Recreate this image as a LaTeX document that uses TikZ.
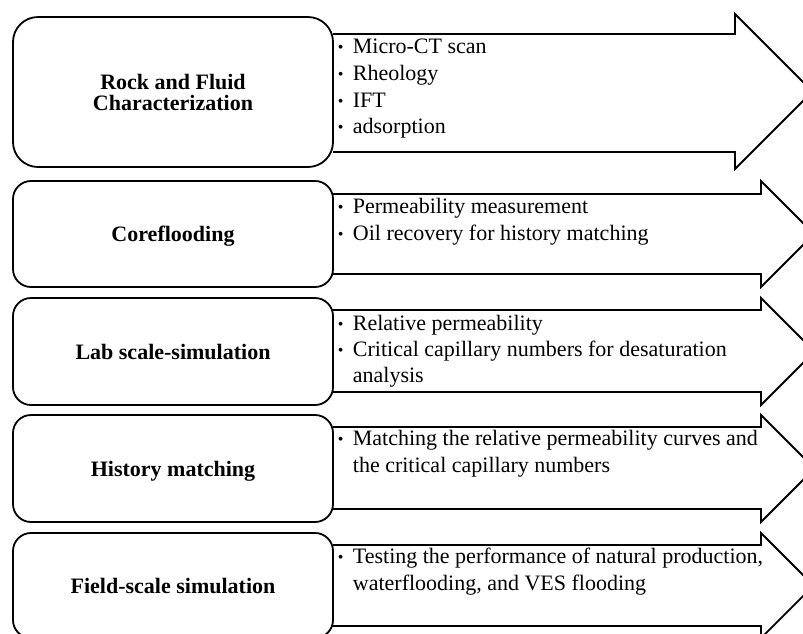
\documentclass[tikz,border=0pt]{standalone}
\usepackage{fontspec}
\setmainfont{Liberation Serif}
\newcommand{\bulletline}[4]{% name, y, text
  \node[bul] (#1b) at (337,#2) {\fontsize{16pt}{16pt}\selectfont\raisebox{1pt}{\textbullet}};
  \node[bul] (#1t) at (352,#2) {#3};}
\newcommand{\contline}[3]{%
  \node[bul] (#1t) at (352,#2) {#3};}
\begin{document}
\begin{tikzpicture}[x=1pt,y=-1pt, line width=1.8pt, line join=miter,
  stagebox/.style={draw, minimum width=320pt, inner sep=0pt},
  stagelabel/.style={font=\bfseries\fontsize{22pt}{21pt}\selectfont, align=center, inner sep=0pt},
  single/.style={text height=15pt, text depth=0pt},
  bul/.style={font=\fontsize{22pt}{26pt}\selectfont, anchor=base west, inner sep=0pt},
  arrowline/.style={draw}]
\clip (0,0) rectangle (803,633);

% stage boxes
\node[stagebox, minimum height=150pt, rounded corners=25pt] (b1) at (173,92) {};
\node[stagebox, minimum height=106pt, rounded corners=18pt] (b2) at (173,234) {};
\node[stagebox, minimum height=107pt, rounded corners=18pt] (b3) at (173,351.5) {};
\node[stagebox, minimum height=107pt, rounded corners=18pt] (b4) at (173,468.5) {};
\node[stagebox, minimum height=105pt, rounded corners=18pt] (b5) at (173,585.5) {};

% labels
\node[stagelabel] (l1) at (b1) {Rock and Fluid\\Characterization};
\node[stagelabel, single] (l2) at (b2) {Coreflooding};
\node[stagelabel, single] (l3) at (b3) {Lab scale-simulation};
\node[stagelabel, single] (l4) at (b4) {History matching};
\node[stagelabel, single] (l5) at (b5) {Field-scale simulation};

% arrows
\draw[arrowline] (333,34) -- (735,34) -- (735,14) -- (812.5,91.5) -- (735,169) -- (735,152) -- (333,152);
\draw[arrowline] (333,194) -- (761,194) -- (761,181) -- (814,234) -- (761,287) -- (761,274) -- (333,274);
\draw[arrowline] (333,310) -- (761,310) -- (761,298) -- (814.5,351.5) -- (761,405) -- (761,392) -- (333,392);
\draw[arrowline] (333,427) -- (761,427) -- (761,415) -- (814.5,468.5) -- (761,522) -- (761,509) -- (333,509);
\draw[arrowline] (333,545) -- (761,545) -- (761,533) -- (813.5,585.5) -- (761,638) -- (761,626) -- (333,626);

% bullet texts
\bulletline{a1}{53}{Micro-CT scan}{}
\bulletline{a2}{80}{Rheology}{}
\bulletline{a3}{107}{IFT}{}
\bulletline{a4}{133}{adsorption}{}

\bulletline{c1}{213}{Permeability measurement}{}
\bulletline{c2}{240}{Oil recovery for history matching}{}

\bulletline{d1}{330}{Relative permeability}{}
\bulletline{d2}{356}{Critical capillary numbers for desaturation}{}
\contline{d3}{382}{analysis}

\bulletline{e1}{445}{Matching the relative permeability curves and}{}
\contline{e2}{472}{the critical capillary numbers}

\bulletline{f1}{563}{Testing the performance of natural production,}{}
\contline{f2}{590}{waterflooding, and VES flooding}
\end{tikzpicture}
\end{document}
